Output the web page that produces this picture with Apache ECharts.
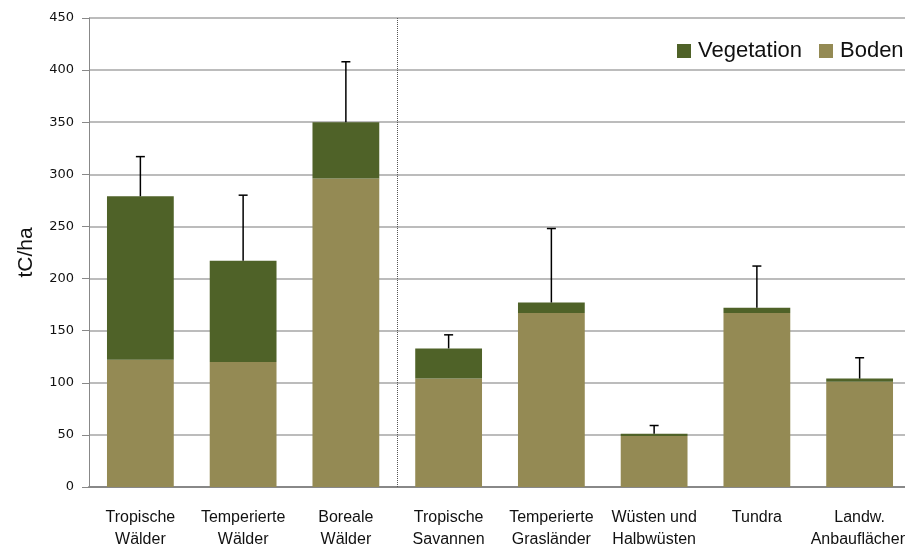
<!DOCTYPE html>
<html>
<head>
<meta charset="utf-8">
<script src="https://cdn.jsdelivr.net/npm/echarts@6/dist/echarts.min.js"></script>
<style>
  html, body { margin: 0; padding: 0; background: #fff; overflow: hidden; }
  /* Diagramm ragt rechts etwas über den sichtbaren Bereich hinaus */
  #chart { width: 925px; height: 547px; }
</style>
</head>
<body>
<div id="chart"></div>
<script>
// Kategorien (Biome)
const categories = [
  "Tropische\nWälder", "Temperierte\nWälder", "Boreale\nWälder",
  "Tropische\nSavannen", "Temperierte\nGrasländer", "Wüsten und\nHalbwüsten",
  "Tundra", "Landw.\nAnbauflächen"
];
// Kohlenstoff im Boden (tC/ha)
const boden = [122, 120, 296, 104, 167, 49, 167, 101];
// Kohlenstoff in der Vegetation (tC/ha)
const vegetation = [157, 97, 54, 29, 10, 2, 5, 3];
// Fehlerbalken nach oben
const fehler = [38, 63, 58, 13, 71, 8, 40, 20];
// Trennlinie nach dieser Kategorie (Wälder | Rest)
const trennungNach = [[2, 0]];
const yTicks = [0, 50, 100, 150, 200, 250, 300, 350, 400, 450];

const colVeg = "#4f6228";
const colBoden = "#948a54";

let chart = echarts.init(document.getElementById("chart"));

let errData = boden.map(function(b, i) {
  let total = b + vegetation[i];
  return [i, total, total + fehler[i]];
});

chart.setOption({
  animation: false,
  grid: { left: 89, top: 18, width: 822, height: 469, containLabel: false, outerBoundsMode: "none" },
  legend: {
    orient: "horizontal",
    left: 672,
    top: 35,
    width: 260,
    itemWidth: 14,
    itemHeight: 14,
    itemGap: 17,
    icon: "rect",
    data: ["Vegetation", "Boden"],
    textStyle: { fontFamily: "Liberation Sans", fontSize: 22, color: "#111", padding: [0, 0, 0, 2] }
  },
  xAxis: {
    type: "category",
    data: categories,
    axisLine: { lineStyle: { color: "#888", width: 2 } },
    axisTick: { length: 5, lineStyle: { color: "#888" } },
    axisLabel: {
      interval: 0,
      margin: 20,
      fontFamily: "Liberation Sans",
      fontSize: 16,
      lineHeight: 22,
      color: "#111"
    }
  },
  yAxis: {
    type: "value",
    min: yTicks[0],
    max: yTicks[yTicks.length - 1],
    interval: 50,
    name: "tC/ha",
    nameLocation: "middle",
    nameGap: 52,
    nameTextStyle: { fontFamily: "Liberation Sans", fontSize: 21, color: "#111" },
    axisLine: { show: true, lineStyle: { color: "#888", width: 1 } },
    axisTick: { show: true, length: 7, lineStyle: { color: "#888" } },
    axisLabel: { margin: 15, fontFamily: "DejaVu Sans", fontSize: 13, color: "#111" },
    splitLine: { lineStyle: { color: "#a6a6a6", width: 1.5 } }
  },
  series: [
    {
      name: "Boden",
      type: "bar",
      stack: "c",
      barWidth: "65%",
      itemStyle: { color: colBoden },
      data: boden
    },
    {
      name: "Vegetation",
      type: "bar",
      stack: "c",
      barWidth: "65%",
      itemStyle: { color: colVeg },
      data: vegetation
    },
    {
      // Fehlerbalken
      type: "custom",
      silent: true,
      z: 5,
      data: errData,
      renderItem: function(params, api) {
        let lo = api.coord([api.value(0), api.value(1)]);
        let hi = api.coord([api.value(0), api.value(2)]);
        let cap = 4.5;
        return {
          type: "group",
          children: [
            { type: "line", shape: { x1: lo[0], y1: lo[1], x2: hi[0], y2: hi[1] }, style: { stroke: "#000", lineWidth: 1.5 } },
            { type: "line", shape: { x1: hi[0] - cap, y1: hi[1], x2: hi[0] + cap, y2: hi[1] }, style: { stroke: "#000", lineWidth: 1.5 } }
          ]
        };
      }
    },
    {
      // gepunktete Trennlinie
      type: "custom",
      silent: true,
      z: 1,
      data: trennungNach,
      renderItem: function(params, api) {
        let idx = api.value(0);
        let bandW = api.size([1, 0])[0];
        let top = api.coord([idx, yTicks[yTicks.length - 1]]);
        let bot = api.coord([idx, 0]);
        let x = Math.round(top[0] + bandW / 2) + 0.5;
        return {
          type: "line",
          shape: { x1: x, y1: top[1], x2: x, y2: bot[1] },
          style: { stroke: "#555", lineWidth: 1, lineDash: [1, 1] }
        };
      }
    }
  ]
});
</script>
</body>
</html>
